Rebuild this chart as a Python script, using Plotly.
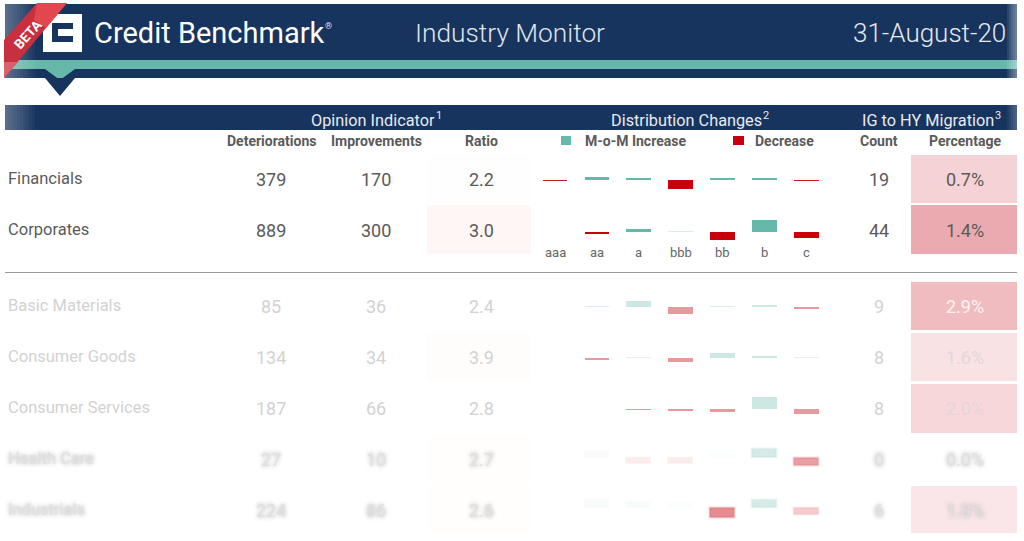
import plotly.graph_objects as go

# ---------- data ----------
sectors = ["Financials", "Corporates", "Basic Materials", "Consumer Goods",
           "Consumer Services", "Health Care", "Industrials"]
deteriorations = [379, 889, 85, 134, 187, 27, 224]
improvements = [170, 300, 36, 34, 66, 10, 86]
ratios = ["2.2", "3.0", "2.4", "3.9", "2.8", "2.7", "2.6"]
counts = [19, 44, 9, 8, 8, 0, 6]
percentages = ["0.7%", "1.4%", "2.9%", "1.6%", "2.0%", "0.0%", "1.0%"]
ratings = ["aaa", "aa", "a", "bbb", "bb", "b", "c"]
# month-on-month distribution change by rating, one list per sector (None = no bar)
changes = [
    [-1, 3, 1.5, -8.5, 1.5, 2, -1],
    [None, -1.5, 3, 0.8, -8, 12, -6],
    [None, 0.8, 6, -7, 0.8, 2, -2],
    [None, -2, 0.8, -4, 5, 2, 0.6],
    [None, None, -1, -2, -3, 12, -5],
    [None, 6, -6, -6, 5, 9, -8],
    [None, 8, 6, 5, -10, 8, -7],
]

# ---------- layout constants (pixel-like scale of the page) ----------
NAVY, TEAL, RED = "#17345f", "#66b8ab", "#c8000c"
TXT, FADED = "#5a5a5a", "#d2d2d2"
row_text_y = [179, 230, 306, 357, 408, 459, 510]
row_base = [180, 232, 307, 358, 409, 458, 508]
cell_top = [155, 205, 282, 333, 384, 435, 486]
cell_h = [48, 49, 48, 48, 49, 48, 47]
bar_x = [555, 596.8, 638.7, 680.6, 722.5, 764.4, 806.3]
col_x = {"det": 271, "imp": 376, "ratio": 481, "count": 879, "pct": 965}
pct_col = ["#f5d2d5", "#ebaab0", "#f1bcc0", "#f9e2e4", "#f8d7da", "#ffffff", "#fae6e8"]
ratio_col = ["#fffefe", "#fff7f5", "#ffffff", "#fffdfb", "#ffffff", "#fffefc", "#fffefc"]
row_alpha = [
    [.9, 1, 1, 1, 1, 1, .9],
    [1, 1, 1, .25, 1, 1, 1],
    [.4, .25, .33, .4, .25, .33, .4],
    [.4, .4, .2, .4, .33, .33, .2],
    [.4, .4, .4, .4, .4, .33, .4],
    [.4, .05, .07, .07, .03, .28, .38],
    [.4, .05, .05, .025, .45, .28, .2],
]

fig = go.Figure()

# heat cells for the ratio and percentage columns
fig.add_bar(x=[col_x["ratio"] - 2] * 7, y=cell_h, base=cell_top, width=104,
            marker=dict(color=ratio_col, line_width=0), hoverinfo="skip")
fig.add_bar(x=[col_x["pct"] - 1] * 7, y=cell_h, base=cell_top, width=106,
            marker=dict(color=pct_col, line_width=0), hoverinfo="skip")

# distribution-change bars, drawn per sector from the changes lists
for r, vals in enumerate(changes):
    colors, halo = [], []
    for v, a in zip(vals, row_alpha[r]):
        rgb = "102,184,171" if (v or 0) > 0 else "200,0,12"
        colors.append(f"rgba({rgb},{a})")
        halo.append(f"rgba({rgb},{a * .18 if r >= 5 else 0})")
    fig.add_bar(x=bar_x, y=[None if v is None else -v for v in vals], base=[row_base[r]] * 7, width=24.6,
                marker=dict(color=colors, line=dict(color=halo, width=3 if r >= 5 else 0)),
                hoverinfo="skip")

# ---------- chrome ----------
def rect(x0, y0, x1, y1, c):
    return dict(type="rect", x0=x0, y0=y0, x1=x1, y1=y1, fillcolor=c, line_width=0, layer="above")

def poly(path, c):
    return dict(type="path", path=path, fillcolor=c, line_width=0, layer="above")

shapes = [
    rect(5, 4, 1017, 78, NAVY),
    rect(5, 60, 1017, 69, TEAL),
    poly("M45,69 L75,69 L60,80 Z", TEAL),
    poly("M45,78 L75,78 L60,96 Z", NAVY),
    rect(5, 105, 1017, 130, NAVY),
    rect(5, 272, 1017, 273, "#9a9a9a"),
    rect(561, 136, 571, 145, TEAL),
    rect(733, 136, 744, 145, RED),
]
# soft fades at the banner ends: nested translucent layers
for i in range(1, 11):
    shapes.append(rect(5, 4, 5 + i * 3, 78, "rgba(255,255,255,0.035)"))
    shapes.append(rect(5, 105, 5 + i * 3, 130, "rgba(255,255,255,0.035)"))
for i in range(1, 6):
    shapes.append(rect(1017 - i * 2, 4, 1017, 78, "rgba(255,255,255,0.09)"))
    shapes.append(rect(1017 - i * 2, 105, 1017, 130, "rgba(255,255,255,0.05)"))
shapes += [
    # logo
    rect(43, 14, 82, 52, "#ffffff"),
    rect(52, 23, 73, 42, NAVY),
    rect(58, 29, 82, 36, "#ffffff"),
    # beta ribbon
    poly("M4,40 L37,3 L67,3 L4,78 Z", "#c9303f"),
    poly("M37,3 L67,3 L46,28 L34,20 Z", "#e2464f"),
    poly("M4,62 L18,62 L4,78 Z", "#d9626a"),
]

# ---------- text ----------
ann = []
def T(x, y, s, size=18, color=TXT, anchor="center", weight=400, family="Roboto", angle=0, shadow=None):
    f = dict(size=size, color=color, family=family, weight=weight)
    if shadow:
        f["shadow"] = shadow
    ann.append(dict(x=x, y=y, text=s, showarrow=False, xanchor=anchor, yanchor="middle",
                    font=f, textangle=angle, xref="x", yref="y"))

T(92, 33, "Credit Benchmark", 29, "#ffffff", "left")
T(323, 26, "®", 9, "#d8dde5", "left")
T(413, 33, "Industry Monitor", 26.3, "#dfe4ea", "left", 300)
T(1008, 33, "31-August-20", 26, "#e6e9ee", "right", 300)
T(28, 34, "BETA", 13.5, "#ffffff", weight=700, angle=-48)

T(372.5, 120, "Opinion Indicator", 16.3, "#e8ebf0")
T(686.5, 120, "Distribution Changes", 16.3, "#e8ebf0")
T(927.5, 120, "IG to HY Migration", 16.3, "#e8ebf0")
T(434, 115, "1", 11, "#e8ebf0", "left")
T(761, 115, "2", 11, "#e8ebf0", "left")
T(993, 115, "3", 11, "#e8ebf0", "left")

for key, s in (("det", "Deteriorations"), ("imp", "Improvements"), ("ratio", "Ratio"),
               ("count", "Count"), ("pct", "Percentage")):
    T(col_x[key], 141, s, 14, TXT, weight=700)
T(583, 141, "M-o-M Increase", 14, TXT, "left", 700)
T(753, 141, "Decrease", 14, TXT, "left", 700)
for x, s in zip(bar_x, ratings):
    T(x, 252, s, 13, "#666666")

for r, name in enumerate(sectors):
    y = row_text_y[r]
    if r < 2:
        c, sh = TXT, None
    elif r < 5:
        c, sh = FADED, None
    else:
        c, sh = "rgba(225,225,225,0.9)", "0 0 4px #a8a8a8"
    T(6, y - 1, name, 16.5, c, "left", shadow=sh)
    T(col_x["det"], y, str(deteriorations[r]), 18, c, shadow=sh)
    T(col_x["imp"], y, str(improvements[r]), 18, c, shadow=sh)
    T(col_x["ratio"], y, ratios[r], 18, c, shadow=sh)
    T(col_x["count"], y, str(counts[r]), 18, c, shadow=sh)
    pc = "#fdf3f3" if r == 2 else ("#e2d6d8" if r in (3, 4) else c)
    T(col_x["pct"], y, percentages[r], 18, pc, shadow=sh)

fig.update_layout(
    width=1024, height=541, autosize=False, margin=dict(l=0, r=0, t=0, b=0),
    paper_bgcolor="#ffffff", plot_bgcolor="#ffffff", showlegend=False,
    barmode="overlay", bargap=0, shapes=shapes, annotations=ann,
    xaxis=dict(range=[0, 1024], visible=False, fixedrange=True),
    yaxis=dict(range=[541, 0], visible=False, fixedrange=True),
)
fig.write_html("out.html", config=dict(displayModeBar=False),
               post_script="document.body.style.margin='0';document.body.style.overflow='hidden';")
